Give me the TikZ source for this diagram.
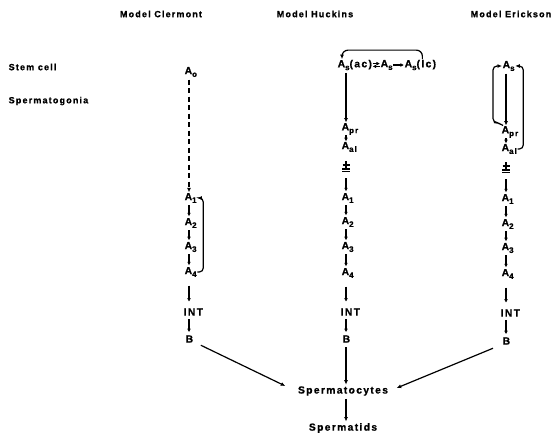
\documentclass[tikz,border=0pt]{standalone}
\usepackage{fontspec}
\setmainfont{Liberation Sans}[LetterSpace=13, BoldFeatures={FakeBold=0.8}]
\usetikzlibrary{arrows.meta,calc}
% lowered subscript in the text font
\newcommand\sbs[1]{\raisebox{-2.8pt}{\fontsize{8pt}{8pt}\selectfont #1}}
\begin{document}
\begin{tikzpicture}[x=1pt,y=-1pt,
  head/.style={font=\fontsize{9pt}{10pt}\selectfont\bfseries, inner sep=0.5pt},
  cell/.style={font=\fontsize{10.3pt}{11pt}\selectfont\bfseries, inner sep=0.5pt, anchor=west},
  arr/.style={line width=1.2pt, -{Latex[length=4.5pt,width=4pt]}},
  sarr/.style={line width=1.1pt, -{Latex[length=3.6pt,width=3.8pt]}},
  loop/.style={line width=1.2pt, rounded corners=4pt, -{Latex[length=4.5pt,width=4pt]}},
  stp/.style={sarr, shorten <=1.5pt, shorten >=1pt},
  midstp/.style={sarr, shorten <=3pt, shorten >=2.5pt},
  longstp/.style={sarr, shorten <=8pt, shorten >=6pt},
  bar/.style={line width=1.1pt},
  ]
\useasboundingbox (0,0) rectangle (553,440);

% column axes
\coordinate (colC) at (189,0);
\coordinate (colH) at (346,0);
\coordinate (colE) at (506,0);

% headings and row labels
\node[head] (hdC) at (161,14) {Model Clermont};
\node[head] (hdH) at (315,14) {Model Huckins};
\node[head] (hdE) at (511,14) {Model Erickson};
\node[head, anchor=west] (rstem) at (8,67) {Stem cell};
\node[head, anchor=west] (rsg) at (8,101) {Spermatogonia};

% ---- Clermont ----
\node[cell] (c0) at (184,72) {A\sbs{o}};
\node[cell] (c1) at (184,198) {A\sbs{1}};
\node[cell] (c2) at (184,223) {A\sbs{2}};
\node[cell] (c3) at (184,247) {A\sbs{3}};
\node[cell] (c4) at (184,272) {A\sbs{4}};
\node[cell] (cint) at (183,312) {INT};
\node[cell] (cb) at (185,339) {B};
\draw[arr, dash pattern=on 5pt off 3.5pt, shorten <=2pt] (c0.south -| colC) -- (c1.north -| colC);
\draw[stp] (c1.south -| colC) -- (c2.north -| colC);
\draw[stp] (c2.south -| colC) -- (c3.north -| colC);
\draw[stp] (c3.south -| colC) -- (c4.north -| colC);
\draw[longstp] (c4.south -| colC) -- (cint.north -| colC);
\draw[midstp] (cint.south -| colC) -- (cb.north -| colC);
\draw[loop] (c4.east) -| ($(c1.east)+(6,0)$) -- (c1.east);

% ---- Huckins ----
\node[cell] (hac) at (337,65) {A\sbs{s}(ac)};
\node[cell] (hs) at (380,65) {A\sbs{s}};
\node[cell] (hlc) at (404,65) {A\sbs{s}(lc)};
\draw[sarr] ([yshift=1.4pt]hac.east) -- ([yshift=1.4pt]hs.west);
\draw[sarr] ([yshift=-1.4pt]hs.west) -- ([yshift=-1.4pt]hac.east);
\draw[sarr] (hs.east) -- (hlc.west);
\draw[loop, rounded corners=6pt] ($(hlc.north)+(2,0)$) -- ++(0,-9) -| ($(hac.north west)+(5,0)$);
\node[cell] (hpr) at (341,129) {A\sbs{pr}};
\node[cell] (hal) at (341,147) {A\sbs{al}};
\coordinate (hblk) at (346,167);
\node[cell] (h1) at (341,198) {A\sbs{1}};
\node[cell] (h2) at (341,222) {A\sbs{2}};
\node[cell] (h3) at (341,247) {A\sbs{3}};
\node[cell] (h4) at (341,273) {A\sbs{4}};
\node[cell] (hint) at (340,312) {INT};
\node[cell] (hb) at (342,339) {B};
\draw[arr, shorten <=2pt] (hac.south -| colH) -- (hpr.north -| colH);
\draw[sarr] (hpr.south -| colH) -- (hal.north -| colH);
\draw[bar] ($(hblk)+(0,-6)$) -- ($(hblk)+(0,1)$);
\draw[bar] ($(hblk)+(-3.5,-2)$) -- ($(hblk)+(3.5,-2)$);
\draw[bar] ($(hblk)+(-4,2)$) -- ($(hblk)+(4,2)$);
\draw[bar] ($(hblk)+(-4,4.5)$) -- ($(hblk)+(4,4.5)$);
\draw[stp, shorten <=0pt] ($(hblk)+(0,11)$) -- (h1.north -| colH);
\draw[stp] (h1.south -| colH) -- (h2.north -| colH);
\draw[stp] (h2.south -| colH) -- (h3.north -| colH);
\draw[stp] (h3.south -| colH) -- (h4.north -| colH);
\draw[longstp] (h4.south -| colH) -- (hint.north -| colH);
\draw[midstp] (hint.south -| colH) -- (hb.north -| colH);

% ---- Erickson ----
\node[cell] (es) at (502,66) {A\sbs{s}};
\node[cell] (epr) at (501,132) {A\sbs{pr}};
\node[cell] (eal) at (501,149) {A\sbs{al}};
\coordinate (eblk) at (506,168);
\node[cell] (e1) at (501,199) {A\sbs{1}};
\node[cell] (e2) at (501,224) {A\sbs{2}};
\node[cell] (e3) at (501,248) {A\sbs{3}};
\node[cell] (e4) at (501,274) {A\sbs{4}};
\node[cell] (eint) at (500,313) {INT};
\node[cell] (eb) at (502,341) {B};
\draw[arr, shorten <=2pt] (es.south -| colE) -- (epr.north -| colE);
\draw[sarr] (epr.south -| colE) -- (eal.north -| colE);
\draw[loop] ($(epr.north west)+(2,0)$) -- ++(-5,-3) -| ($(es.west)+(-9,0)$) -- (es.west);
\draw[loop] (eal.east) -| ($(es.east)+(8,0)$) -- (es.east);
\draw[bar] ($(eblk)+(0,-6)$) -- ($(eblk)+(0,1)$);
\draw[bar] ($(eblk)+(-3.5,-2)$) -- ($(eblk)+(3.5,-2)$);
\draw[bar] ($(eblk)+(-4,2)$) -- ($(eblk)+(4,2)$);
\draw[bar] ($(eblk)+(-4,4.5)$) -- ($(eblk)+(4,4.5)$);
\draw[stp, shorten <=0pt] ($(eblk)+(0,11)$) -- (e1.north -| colE);
\draw[stp] (e1.south -| colE) -- (e2.north -| colE);
\draw[stp] (e2.south -| colE) -- (e3.north -| colE);
\draw[stp] (e3.south -| colE) -- (e4.north -| colE);
\draw[longstp] (e4.south -| colE) -- (eint.north -| colE);
\draw[midstp] (eint.south -| colE) -- (eb.north -| colE);

% ---- common end stages ----
\node[cell, anchor=center] (spc) at (343,391) {Spermatocytes};
\node[cell, anchor=center] (spd) at (343,428) {Spermatids};
\draw[arr] ($(cb.south east)+(7,2)$) -- ($(spc.west)+(-12,-5)$);
\draw[arr, shorten <=4pt, shorten >=1pt] (hb.south -| colH) -- (spc.north -| colH);
\draw[arr] ($(eb.south west)+(-9,3)$) -- ($(spc.east)+(8,-3)$);
\draw[arr, shorten <=2.5pt, shorten >=1pt] (spc.south -| colH) -- (spd.north -| colH);
\end{tikzpicture}
\end{document}
